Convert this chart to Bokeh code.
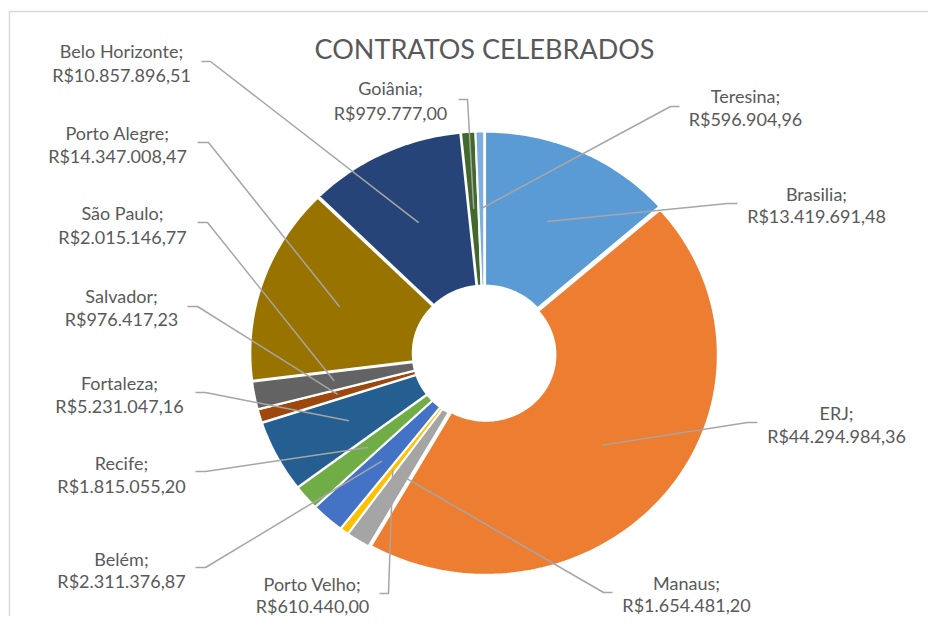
import math
from bokeh.plotting import figure
from bokeh.models import Range1d, ColumnDataSource
from bokeh.core.properties import value
from bokeh.embed import file_html
from bokeh.resources import INLINE

# ---------------- data ----------------
chart_title = "CONTRATOS CELEBRADOS"
cities = ["Brasilia", "ERJ", "Manaus", "Porto Velho", "Belém", "Recife",
          "Fortaleza", "Salvador", "São Paulo", "Porto Alegre",
          "Belo Horizonte", "Goiânia", "Teresina"]
amounts = [13419691.48, 44294984.36, 1654481.20, 610440.00, 2311376.87,
           1815055.20, 5231047.16, 976417.23, 2015146.77, 14347008.47,
           10857896.51, 979777.00, 596904.96]
slice_colors = ["#5B9BD5", "#ED7D31", "#A5A5A5", "#FFC000", "#4472C4",
                "#70AD47", "#255E91", "#9E480E", "#636363", "#997300",
                "#264478", "#43682B", "#7CAFDD"]

# ---------------- layout (screen pixels) ----------------
W, H = 928, 616
PAGE_H = 632


def sy(y):
    return PAGE_H - y


CX, CY = 483.75, sy(353)
RX, RY = 232.0, 220.0
HOLE = 0.30
EXPLODE = 2.0
FONT = "Lato"
TXT = "#595959"

# label placement: text centre x, line1 y, line2 y, stub start x, stub y, elbow x
label_pos = {
    "Belo Horizonte": (121, 50, 74, 201, 61, 210),
    "Porto Alegre": (117, 132, 155, 197, 142, 208),
    "São Paulo": (122, 212, 236, 197, 222, 207),
    "Salvador": (121, 295, 318, 187, 306, 197),
    "Fortaleza": (119, 382, 405, 195, 392, 205),
    "Recife": (121, 462, 485, 195, 471, 205),
    "Belém": (121, 558, 580, 195, 567, 205),
    "Porto Velho": (312, 583, 605, 379, 593, 388),
    "Manaus": (686, 582, 604, 612, 592, 603),
    "ERJ": (836, 412, 435, 757, 422, 747),
    "Brasilia": (816, 193, 215, 737, 203, 727),
    "Teresina": (745, 95, 118, 679, 106, 670),
    "Goiânia": (390, 87, 112, 458, 99, 467),
}


def brl(v):
    s = f"{v:,.2f}"
    s = s.replace(",", "X").replace(".", ",").replace("X", ".")
    return "R$" + s


p = figure(width=W, height=H, output_backend="svg", toolbar_location=None,
           x_range=Range1d(0, W), y_range=Range1d(sy(H), sy(0)),
           min_border=0, min_border_left=0, min_border_right=0,
           min_border_top=0, min_border_bottom=0)
p.axis.visible = False
p.grid.visible = False
p.outline_line_color = None
p.background_fill_color = "white"
p.border_fill_color = "white"

# chart-area border (left and top edges visible)
p.line(x=[9, 9, W + 5], y=[sy(H + 5), sy(11), sy(11)],
       line_color="#D9D9D9", line_width=1.5)

total = sum(amounts)
xs, ys = [], []
lead_xs, lead_ys = [], []
start = 0.0
for name, amt in zip(cities, amounts):
    sweep = amt / total * 2 * math.pi
    a0, a1 = start, start + sweep
    mid = (a0 + a1) / 2
    ox, oy = EXPLODE * math.sin(mid), EXPLODE * math.cos(mid)
    n = max(3, int(math.degrees(sweep)) + 3)
    angs = [a0 + (a1 - a0) * i / (n - 1) for i in range(n)]
    px = [CX + ox + RX * math.sin(t) for t in angs]
    py = [CY + oy + RY * math.cos(t) for t in angs]
    px += [CX + ox + HOLE * RX * math.sin(t) for t in reversed(angs)]
    py += [CY + oy + HOLE * RY * math.cos(t) for t in reversed(angs)]
    xs.append(px)
    ys.append(py)
    fr = (1 + HOLE) / 2
    ex = CX + ox + fr * RX * math.sin(mid)
    ey = CY + oy + fr * RY * math.cos(mid)
    tx, y1, y2, s0, sty, el = label_pos[name]
    lead_xs.append([s0, el, ex])
    lead_ys.append([sy(sty), sy(sty), ey])
    start = a1

src = ColumnDataSource(dict(xs=xs, ys=ys, color=slice_colors))
p.patches("xs", "ys", source=src, fill_color="color", line_color="white",
          line_width=2)

p.multi_line(lead_xs, lead_ys, line_color="#A6A6A6", line_width=1.5)

names = [c + ";" for c in cities]
vals = [brl(a) for a in amounts]
lx = [label_pos[c][0] for c in cities]
l1 = [sy(label_pos[c][1]) for c in cities]
l2 = [sy(label_pos[c][2]) for c in cities]
p.text(x=lx, y=l1, text=names, text_font=value(FONT), text_font_size="18px",
       text_color=TXT, text_align="center", text_baseline="middle")
p.text(x=lx, y=l2, text=vals, text_font=value(FONT), text_font_size="18px",
       text_color=TXT, text_align="center", text_baseline="middle")

p.text(x=[484], y=[sy(48)], text=[chart_title], text_font=value(FONT),
       text_font_size="27px", text_color=TXT, text_align="center",
       text_baseline="middle")

open("out.html", "w").write(file_html(p, INLINE))
